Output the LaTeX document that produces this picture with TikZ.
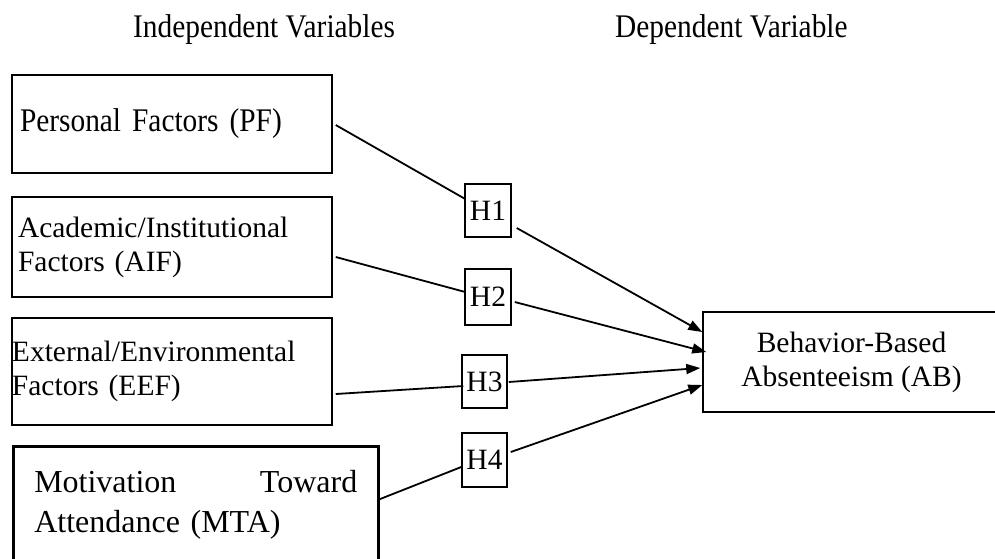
\documentclass[tikz,border=0pt]{standalone}
\usepackage{fontspec}
\setmainfont{Liberation Serif}
\newfontfamily\tallserif{Liberation Serif}[FakeStretch=0.89]
\usetikzlibrary{arrows.meta}
\begin{document}
\begin{tikzpicture}[x=1pt,y=1pt,
  every node/.style={font=\fontsize{29.5}{34}\selectfont},
  tallfont/.style={font=\tallserif\fontsize{33}{38}\selectfont},
  varbox/.style={draw, line width=1.5pt, align=left, inner ysep=0pt},
  hbox/.style={draw, line width=1.5pt, inner sep=0pt},
  link/.style={line width=1.8pt},
  arrowlink/.style={line width=1.8pt, -{Triangle[length=14pt,width=10pt]}}]
\useasboundingbox (0,0) rectangle (995,-558);
% titles
\node[tallfont, anchor=base west, inner sep=0pt] (tind) at (133,-37) {Independent Variables};
\node[tallfont, anchor=base west, inner sep=0pt] (tdep) at (615,-37) {Dependent Variable};
% variable boxes
\node[varbox, tallfont, minimum width=320, minimum height=98, inner xsep=8pt, text width=304pt] (pf) at (172,-124) {Personal Factors (PF)};
\node[varbox, minimum width=320, minimum height=100, inner xsep=6pt, text width=308pt] (aif) at (172,-247) {Academic/Institutional\\Factors (AIF)};
\node[varbox, minimum width=320, minimum height=107, inner xsep=0pt, text width=320pt] (eef) at (172,-371.5) {External/Environmental\\Factors (EEF)};
\node[varbox, line width=2.5pt, anchor=north west, minimum height=117, inner xsep=21pt, text width=323pt,
  font=\fontsize{32}{40}\selectfont] (mta) at (12,-445) {Motivation\hfill Toward\\Attendance (MTA)};
\node[draw, line width=1.5pt, align=center, minimum width=297, minimum height=100, inner sep=0pt] (ab) at (851.5,-362) {Behavior-Based\\Absenteeism (AB)};
% hypothesis boxes
\node[hbox, minimum width=46, minimum height=53] (h1) at (488,-210.5) {H1};
\node[hbox, minimum width=46, minimum height=56] (h2) at (488,-297) {H2};
\node[hbox, minimum width=45, minimum height=53] (h3) at (484.5,-381.5) {H3};
\node[hbox, minimum width=45, minimum height=54] (h4) at (484.5,-460) {H4};
% connectors
\draw[link] ([xshift=3pt,yshift=-1pt]pf.east) -- ([xshift=1pt,yshift=11.5pt]h1.west);
\draw[arrowlink] ([xshift=5pt,yshift=-17.5pt]h1.east) -- ([yshift=30pt]ab.west);
\draw[link] ([xshift=3pt,yshift=-10pt]aif.east) -- ([xshift=1pt,yshift=5pt]h2.west);
\draw[arrowlink] ([xshift=3pt,yshift=-5pt]h2.east) -- ([xshift=4pt,yshift=10pt]ab.west);
\draw[link] ([xshift=3pt,yshift=-22.5pt]eef.east) -- ([xshift=2pt,yshift=-4.5pt]h3.west);
\draw[arrowlink] ([xshift=1pt,yshift=-0.5pt]h3.east) -- ([xshift=-2pt,yshift=-6pt]ab.west);
\draw[link] ([yshift=5.5pt]mta.east) -- ([yshift=-7pt]h4.west);
\draw[arrowlink] ([xshift=3pt,yshift=8pt]h4.east) -- ([yshift=-23pt]ab.west);
\end{tikzpicture}
\end{document}
